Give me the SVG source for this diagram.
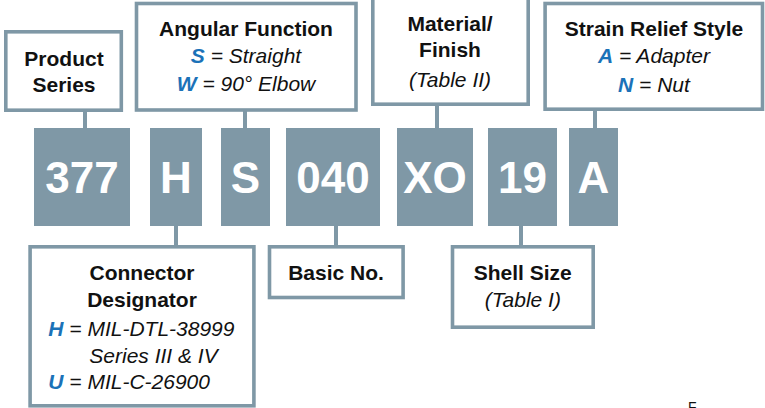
<svg xmlns="http://www.w3.org/2000/svg" width="765" height="408" viewBox="0 0 765 408">
<style>
.box{fill:#ffffff;stroke:#7f98a6;stroke-width:3.6}
.code{fill:#7f98a6}
.conn{stroke:#7f98a6;stroke-width:4;fill:none}
text{font-family:"Liberation Sans",Arial,sans-serif;font-size:21px;fill:#111111}
.b{font-weight:bold}
.i{font-style:italic}
.c{text-anchor:middle}
.bl{fill:#1b72b8;font-weight:bold;font-style:italic}
.ct{fill:#ffffff;font-weight:bold;font-size:44px;text-anchor:middle}
</style>
<rect width="765" height="408" fill="#ffffff"/>
<g id="connectors">
<line class="conn" x1="85" y1="110" x2="85" y2="129"/>
<line class="conn" x1="245" y1="110" x2="245" y2="129"/>
<line class="conn" x1="437" y1="104" x2="437" y2="129"/>
<line class="conn" x1="595" y1="109" x2="595" y2="129"/>
<line class="conn" x1="176" y1="225" x2="176" y2="247"/>
<line class="conn" x1="336" y1="225" x2="336" y2="247"/>
<line class="conn" x1="521" y1="225" x2="521" y2="247"/>
</g>
<g id="code-377"><rect class="code" x="34" y="128" width="96" height="98"/><text class="ct" x="82" y="193">377</text></g>
<g id="code-H"><rect class="code" x="150" y="128" width="52" height="98"/><text class="ct" x="176" y="193">H</text></g>
<g id="code-S"><rect class="code" x="221" y="128" width="49" height="98"/><text class="ct" x="245.5" y="193">S</text></g>
<g id="code-040"><rect class="code" x="286" y="128" width="94" height="98"/><text class="ct" x="333" y="193">040</text></g>
<g id="code-XO"><rect class="code" x="397" y="128" width="76" height="98"/><text class="ct" x="435" y="193">XO</text></g>
<g id="code-19"><rect class="code" x="488" y="128" width="69" height="98"/><text class="ct" x="522.5" y="193">19</text></g>
<g id="code-A"><rect class="code" x="569" y="128" width="49" height="98"/><text class="ct" x="593.5" y="193">A</text></g>
<g id="product-series">
<rect class="box" x="5.8" y="31.8" width="115.5" height="78.4"/>
<text class="b c" x="64" y="66">Product</text>
<text class="b c" x="64" y="91.5">Series</text>
</g>
<g id="angular-function">
<rect class="box" x="136.5" y="3.5" width="219.5" height="106.5"/>
<text class="b c" x="246" y="36">Angular Function</text>
<text class="i c" x="246" y="63"><tspan class="bl">S</tspan> = Straight</text>
<text class="i c" x="246" y="91"><tspan class="bl">W</tspan> = 90° Elbow</text>
</g>
<g id="material-finish">
<rect class="box" x="372.8" y="-10" width="155.4" height="114.2"/>
<text class="b c" x="450" y="30.7">Material/</text>
<text class="b c" x="450" y="57.3">Finish</text>
<text class="i c" x="450" y="87">(Table II)</text>
</g>
<g id="strain-relief">
<rect class="box" x="545.1" y="3.5" width="217.4" height="105.7"/>
<text class="b c" x="654" y="36">Strain Relief Style</text>
<text class="i c" x="654" y="63.3"><tspan class="bl">A</tspan> = Adapter</text>
<text class="i c" x="654" y="91.7"><tspan class="bl">N</tspan> = Nut</text>
</g>
<g id="connector-designator">
<rect class="box" x="30.1" y="246.8" width="223.8" height="159"/>
<text class="b c" x="142" y="280">Connector</text>
<text class="b c" x="142" y="306.7">Designator</text>
<text class="i" x="48.3" y="336"><tspan class="bl">H</tspan> = MIL-DTL-38999</text>
<text class="i" x="89.3" y="362.7">Series III &amp; IV</text>
<text class="i" x="48.3" y="389.3"><tspan class="bl">U</tspan> = MIL-C-26900</text>
</g>
<g id="basic-no">
<rect class="box" x="269.5" y="246.8" width="133.6" height="50.7"/>
<text class="b c" x="336" y="280">Basic No.</text>
</g>
<g id="shell-size">
<rect class="box" x="452.5" y="246.8" width="140.7" height="80.4"/>
<text class="b c" x="522.8" y="280">Shell Size</text>
<text class="i c" x="522.8" y="306.5">(Table I)</text>
</g>
<text x="688" y="412" style="font-size:14px">F</text>
</svg>
